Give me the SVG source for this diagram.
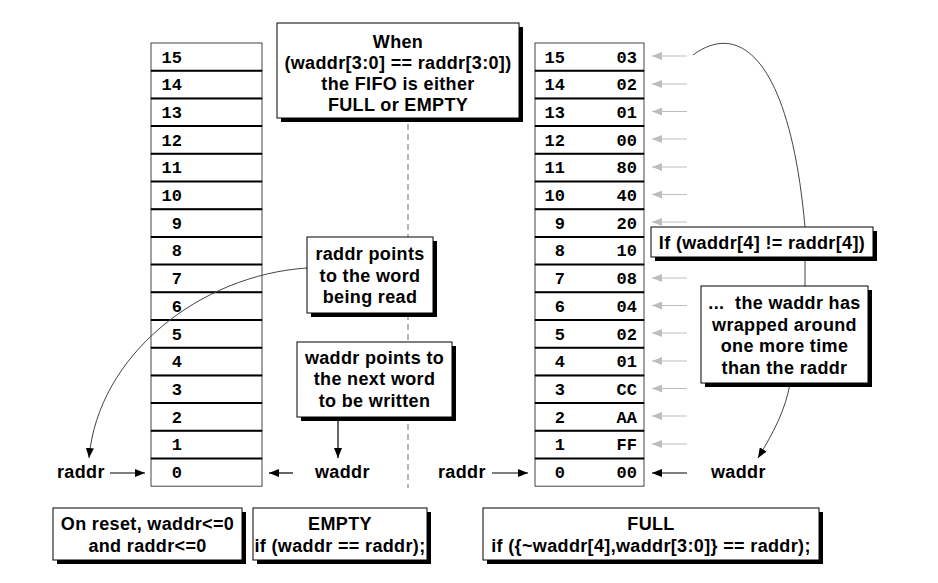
<svg xmlns="http://www.w3.org/2000/svg" width="938" height="583" viewBox="0 0 938 583">
<defs>
<style>
.cell{fill:#fff;stroke:#444;stroke-width:1}
.sep{stroke:#000;stroke-width:2}
.num{font-family:"Liberation Mono","Courier New",monospace;font-weight:bold;font-size:17px;fill:#000;text-anchor:end}
.lbl{font-family:"Liberation Sans",Arial,sans-serif;font-weight:bold;font-size:18px;letter-spacing:0.35px;fill:#000}
.ctr{text-anchor:middle}
.box{fill:#fff;stroke:#000;stroke-width:1}
.shadow{fill:#000}
.garr{stroke:#bdbdbd;stroke-width:1.2;fill:none;marker-end:url(#ga)}
.barr{stroke:#000;stroke-width:1.2;fill:none;marker-end:url(#ba)}
.curve{stroke:#444;stroke-width:1;fill:none}
</style>
<marker id="ba" viewBox="0 0 10 8" refX="10" refY="4" markerWidth="10" markerHeight="8" markerUnits="userSpaceOnUse" orient="auto">
<path d="M0,0 L10,4 L0,8 Z" fill="#000"/>
</marker>
<marker id="ga" viewBox="0 0 10 8" refX="10" refY="4" markerWidth="10" markerHeight="8" markerUnits="userSpaceOnUse" orient="auto">
<path d="M0,0 L10,4 L0,8 Z" fill="#bdbdbd"/>
</marker>
</defs>
<rect width="938" height="583" fill="#fff"/>

<line x1="408" y1="124" x2="408" y2="488" stroke="#888" stroke-width="1.2" stroke-dasharray="6,4"/>

<g id="mem-left">
<rect class="cell" x="151" y="43" width="111" height="27.7"/>
<rect class="cell" x="151" y="70.7" width="111" height="27.7"/>
<rect class="cell" x="151" y="98.4" width="111" height="27.7"/>
<rect class="cell" x="151" y="126.1" width="111" height="27.7"/>
<rect class="cell" x="151" y="153.8" width="111" height="27.7"/>
<rect class="cell" x="151" y="181.5" width="111" height="27.7"/>
<rect class="cell" x="151" y="209.2" width="111" height="27.7"/>
<rect class="cell" x="151" y="236.9" width="111" height="27.7"/>
<rect class="cell" x="151" y="264.6" width="111" height="27.7"/>
<rect class="cell" x="151" y="292.3" width="111" height="27.7"/>
<rect class="cell" x="151" y="320" width="111" height="27.7"/>
<rect class="cell" x="151" y="347.7" width="111" height="27.7"/>
<rect class="cell" x="151" y="375.4" width="111" height="27.7"/>
<rect class="cell" x="151" y="403.1" width="111" height="27.7"/>
<rect class="cell" x="151" y="430.8" width="111" height="27.7"/>
<rect class="cell" x="151" y="458.5" width="111" height="27.7"/>
<line class="sep" x1="151" x2="262" y1="70.7" y2="70.7"/>
<line class="sep" x1="151" x2="262" y1="98.4" y2="98.4"/>
<line class="sep" x1="151" x2="262" y1="126.1" y2="126.1" stroke-width="3"/>
<line class="sep" x1="151" x2="262" y1="153.8" y2="153.8"/>
<line class="sep" x1="151" x2="262" y1="181.5" y2="181.5"/>
<line class="sep" x1="151" x2="262" y1="209.2" y2="209.2"/>
<line class="sep" x1="151" x2="262" y1="236.9" y2="236.9"/>
<line class="sep" x1="151" x2="262" y1="264.6" y2="264.6"/>
<line class="sep" x1="151" x2="262" y1="292.3" y2="292.3"/>
<line class="sep" x1="151" x2="262" y1="320" y2="320"/>
<line class="sep" x1="151" x2="262" y1="347.7" y2="347.7"/>
<line class="sep" x1="151" x2="262" y1="375.4" y2="375.4"/>
<line class="sep" x1="151" x2="262" y1="403.1" y2="403.1"/>
<line class="sep" x1="151" x2="262" y1="430.8" y2="430.8"/>
<line class="sep" x1="151" x2="262" y1="458.5" y2="458.5"/>
<text class="num" x="182" y="62.5">15</text>
<text class="num" x="182" y="90.2">14</text>
<text class="num" x="182" y="117.9">13</text>
<text class="num" x="182" y="145.6">12</text>
<text class="num" x="182" y="173.3">11</text>
<text class="num" x="182" y="201">10</text>
<text class="num" x="182" y="228.7">9</text>
<text class="num" x="182" y="256.4">8</text>
<text class="num" x="182" y="284.1">7</text>
<text class="num" x="182" y="311.8">6</text>
<text class="num" x="182" y="339.5">5</text>
<text class="num" x="182" y="367.2">4</text>
<text class="num" x="182" y="394.9">3</text>
<text class="num" x="182" y="422.6">2</text>
<text class="num" x="182" y="450.3">1</text>
<text class="num" x="182" y="478">0</text>
</g>

<g id="mem-right">
<rect class="cell" x="535" y="43" width="109" height="27.7"/>
<rect class="cell" x="535" y="70.7" width="109" height="27.7"/>
<rect class="cell" x="535" y="98.4" width="109" height="27.7"/>
<rect class="cell" x="535" y="126.1" width="109" height="27.7"/>
<rect class="cell" x="535" y="153.8" width="109" height="27.7"/>
<rect class="cell" x="535" y="181.5" width="109" height="27.7"/>
<rect class="cell" x="535" y="209.2" width="109" height="27.7"/>
<rect class="cell" x="535" y="236.9" width="109" height="27.7"/>
<rect class="cell" x="535" y="264.6" width="109" height="27.7"/>
<rect class="cell" x="535" y="292.3" width="109" height="27.7"/>
<rect class="cell" x="535" y="320" width="109" height="27.7"/>
<rect class="cell" x="535" y="347.7" width="109" height="27.7"/>
<rect class="cell" x="535" y="375.4" width="109" height="27.7"/>
<rect class="cell" x="535" y="403.1" width="109" height="27.7"/>
<rect class="cell" x="535" y="430.8" width="109" height="27.7"/>
<rect class="cell" x="535" y="458.5" width="109" height="27.7"/>
<line class="sep" x1="535" x2="644" y1="70.7" y2="70.7"/>
<line class="sep" x1="535" x2="644" y1="98.4" y2="98.4"/>
<line class="sep" x1="535" x2="644" y1="126.1" y2="126.1" stroke-width="3"/>
<line class="sep" x1="535" x2="644" y1="153.8" y2="153.8"/>
<line class="sep" x1="535" x2="644" y1="181.5" y2="181.5"/>
<line class="sep" x1="535" x2="644" y1="209.2" y2="209.2"/>
<line class="sep" x1="535" x2="644" y1="236.9" y2="236.9"/>
<line class="sep" x1="535" x2="644" y1="264.6" y2="264.6"/>
<line class="sep" x1="535" x2="644" y1="292.3" y2="292.3"/>
<line class="sep" x1="535" x2="644" y1="320" y2="320"/>
<line class="sep" x1="535" x2="644" y1="347.7" y2="347.7"/>
<line class="sep" x1="535" x2="644" y1="375.4" y2="375.4"/>
<line class="sep" x1="535" x2="644" y1="403.1" y2="403.1"/>
<line class="sep" x1="535" x2="644" y1="430.8" y2="430.8"/>
<line class="sep" x1="535" x2="644" y1="458.5" y2="458.5"/>
<text class="num" x="565" y="62.5">15</text><text class="num" x="637" y="62.5">03</text>
<text class="num" x="565" y="90.2">14</text><text class="num" x="637" y="90.2">02</text>
<text class="num" x="565" y="117.9">13</text><text class="num" x="637" y="117.9">01</text>
<text class="num" x="565" y="145.6">12</text><text class="num" x="637" y="145.6">00</text>
<text class="num" x="565" y="173.3">11</text><text class="num" x="637" y="173.3">80</text>
<text class="num" x="565" y="201">10</text><text class="num" x="637" y="201">40</text>
<text class="num" x="565" y="228.7">9</text><text class="num" x="637" y="228.7">20</text>
<text class="num" x="565" y="256.4">8</text><text class="num" x="637" y="256.4">10</text>
<text class="num" x="565" y="284.1">7</text><text class="num" x="637" y="284.1">08</text>
<text class="num" x="565" y="311.8">6</text><text class="num" x="637" y="311.8">04</text>
<text class="num" x="565" y="339.5">5</text><text class="num" x="637" y="339.5">02</text>
<text class="num" x="565" y="367.2">4</text><text class="num" x="637" y="367.2">01</text>
<text class="num" x="565" y="394.9">3</text><text class="num" x="637" y="394.9">CC</text>
<text class="num" x="565" y="422.6">2</text><text class="num" x="637" y="422.6">AA</text>
<text class="num" x="565" y="450.3">1</text><text class="num" x="637" y="450.3">FF</text>
<text class="num" x="565" y="478">0</text><text class="num" x="637" y="478">00</text>
</g>

<g id="connectors">
<line class="garr" x1="687" y1="56" x2="652" y2="56"/>
<line class="garr" x1="687" y1="84" x2="652" y2="84"/>
<line class="garr" x1="687" y1="111.5" y2="111.5" x2="652"/>
<line class="garr" x1="687" y1="139" x2="652" y2="139"/>
<line class="garr" x1="687" y1="167" x2="652" y2="167"/>
<line class="garr" x1="687" y1="194.5" x2="652" y2="194.5"/>
<line class="garr" x1="687" y1="222" x2="652" y2="222"/>
<line class="garr" x1="687" y1="278" x2="652" y2="278"/>
<line class="garr" x1="687" y1="305.5" x2="652" y2="305.5"/>
<line class="garr" x1="687" y1="333" x2="652" y2="333"/>
<line class="garr" x1="687" y1="361" x2="652" y2="361"/>
<line class="garr" x1="687" y1="388.5" x2="652" y2="388.5"/>
<line class="garr" x1="687" y1="416" x2="652" y2="416"/>
<line class="garr" x1="687" y1="444" x2="652" y2="444"/>
<line class="barr" x1="687" y1="473" x2="652" y2="473"/>
<line class="barr" x1="110" y1="473" x2="145" y2="473"/>
<line class="barr" x1="293" y1="473" x2="269" y2="473"/>
<line class="barr" x1="492" y1="473" x2="528" y2="473"/>
<line class="barr" x1="338" y1="417" x2="338" y2="458"/>
<path class="curve" d="M307,268 C200,275 98,355 89,458" marker-end="url(#ba)"/>
<path class="curve" d="M693,55 C740,20 790,60 805,227"/>
<line class="curve" x1="805" y1="257" x2="805" y2="286" stroke="#000"/>
<path class="curve" d="M790,384 C785,410 775,430 758,458" marker-end="url(#ba)"/>
</g>

<g id="labels">
<text class="lbl" x="57" y="478">raddr</text>
<text class="lbl" x="315" y="478">waddr</text>
<text class="lbl" x="438" y="478">raddr</text>
<text class="lbl" x="711" y="478">waddr</text>
</g>

<g id="note-when">
<rect class="shadow" x="281" y="27" width="242" height="95"/>
<rect class="box" x="277" y="23" width="242" height="95"/>
<text class="lbl ctr" x="398" y="48">When</text>
<text class="lbl ctr" x="398" y="69">(waddr[3:0] == raddr[3:0])</text>
<text class="lbl ctr" x="398" y="90">the FIFO is either</text>
<text class="lbl ctr" x="398" y="111">FULL or EMPTY</text>
</g>

<g id="note-raddr">
<rect class="shadow" x="311" y="241" width="126" height="76"/>
<rect class="box" x="307" y="237" width="126" height="76"/>
<text class="lbl ctr" x="370" y="260">raddr points</text>
<text class="lbl ctr" x="370" y="282">to the word</text>
<text class="lbl ctr" x="370" y="303">being read</text>
</g>

<g id="note-waddr">
<rect class="shadow" x="301" y="346" width="155" height="75"/>
<rect class="box" x="297" y="342" width="155" height="75"/>
<text class="lbl ctr" x="374.5" y="364">waddr points to</text>
<text class="lbl ctr" x="374.5" y="385">the next word</text>
<text class="lbl ctr" x="374.5" y="407">to be written</text>
</g>

<g id="note-if">
<rect class="shadow" x="655" y="231" width="222" height="30"/>
<rect class="box" x="651" y="227" width="222" height="30"/>
<text class="lbl ctr" x="762" y="249">If (waddr[4] != raddr[4])</text>
</g>

<g id="note-wrapped">
<rect class="shadow" x="705" y="290" width="167" height="97"/>
<rect class="box" x="701" y="286" width="167" height="97"/>
<text class="lbl ctr" x="784.5" y="308.5" xml:space="preserve">...  the waddr has</text>
<text class="lbl ctr" x="784.5" y="330.5">wrapped around</text>
<text class="lbl ctr" x="784.5" y="352">one more time</text>
<text class="lbl ctr" x="784.5" y="374">than the raddr</text>
</g>

<g id="note-reset">
<rect class="shadow" x="57" y="512" width="189" height="52"/>
<rect class="box" x="53" y="508" width="189" height="52"/>
<text class="lbl ctr" x="147.5" y="530">On reset, waddr&lt;=0</text>
<text class="lbl ctr" x="147.5" y="552">and raddr&lt;=0</text>
</g>

<g id="note-empty">
<rect class="shadow" x="257" y="512" width="174" height="52"/>
<rect class="box" x="253" y="508" width="174" height="52"/>
<text class="lbl ctr" x="340" y="530">EMPTY</text>
<text class="lbl ctr" x="340" y="552">if (waddr == raddr);</text>
</g>

<g id="note-full">
<rect class="shadow" x="487" y="512" width="336" height="52"/>
<rect class="box" x="483" y="508" width="336" height="52"/>
<text class="lbl ctr" x="651" y="530">FULL</text>
<text class="lbl ctr" x="651" y="552">if ({~waddr[4],waddr[3:0]} == raddr);</text>
</g>
</svg>
